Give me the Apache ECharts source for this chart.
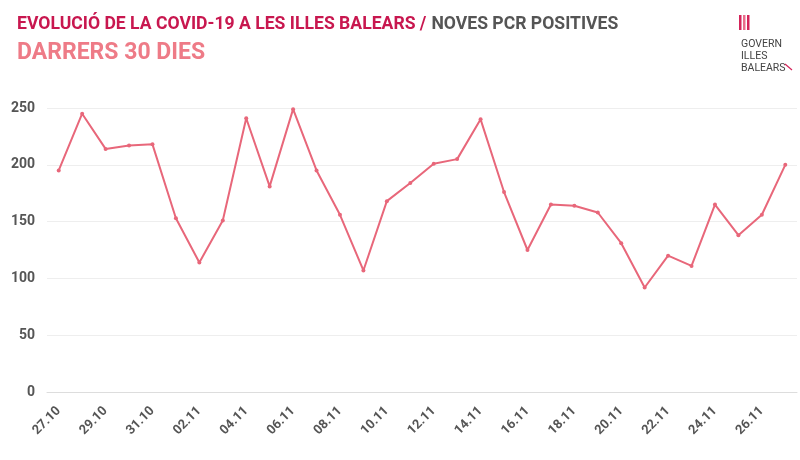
<!DOCTYPE html>
<html>
<head>
<meta charset="utf-8">
<script src="https://cdn.jsdelivr.net/npm/echarts@6/dist/echarts.min.js"></script>
<style>
  html, body { margin: 0; padding: 0; background: #fff; }
  #chart { width: 800px; height: 460px; }
</style>
</head>
<body>
<div id="chart"></div>
<script>
// dies (27.10 - 27.11)
var dates = ['27.10','28.10','29.10','30.10','31.10','01.11','02.11','03.11','04.11','05.11',
  '06.11','07.11','08.11','09.11','10.11','11.11','12.11','13.11','14.11','15.11',
  '16.11','17.11','18.11','19.11','20.11','21.11','22.11','23.11','24.11','25.11',
  '26.11','27.11'];
// noves PCR positives
var positives = [195, 245, 214, 217, 218, 153, 114, 151, 241, 181,
  249, 195, 156, 107, 168, 184, 201, 205, 240, 176,
  125, 165, 164, 158, 131, 92, 120, 111, 165, 138,
  156, 200];
var yTicks = [0, 50, 100, 150, 200, 250];

var myChart = echarts.init(document.getElementById('chart'));
var font = 'Roboto';

var option = {
  animation: false,
  title: {
    left: 12,
    top: 11,
    text: '{a|EVOLUCIÓ DE LA COVID-19 A LES ILLES BALEARS /} {b|NOVES PCR POSITIVES}',
    subtext: 'DARRERS 30 DIES',
    itemGap: 8,
    textStyle: {
      rich: {
        a: { color: '#c8174f', fontSize: 17.6, fontWeight: 'bold', fontFamily: font },
        b: { color: '#555555', fontSize: 17.6, fontWeight: 'bold', fontFamily: font }
      }
    },
    subtextStyle: { color: '#ee7b87', fontSize: 23, fontWeight: 'bold', fontFamily: font }
  },
  graphic: [
    { type: 'rect', left: 739, top: 15, shape: { width: 2.5, height: 15 }, style: { fill: '#d4245a' } },
    { type: 'rect', left: 743, top: 15, shape: { width: 2.5, height: 15 }, style: { fill: '#e86d8a' } },
    { type: 'rect', left: 747, top: 15, shape: { width: 2.5, height: 15 }, style: { fill: '#d4245a' } },
    { type: 'text', left: 741, top: 38, style: { text: 'GOVERN\nILLES\nBALEARS', fill: '#444', font: '10.5px ' + font, lineHeight: 12 } },
    { type: 'line', shape: { x1: 785, y1: 64, x2: 792, y2: 70 }, style: { stroke: '#d4245a', lineWidth: 1.2 } }
  ],
  grid: { left: 47, right: 3, top: 108, bottom: 68 },
  xAxis: {
    type: 'category',
    data: dates,
    boundaryGap: true,
    axisTick: { show: false },
    axisLine: { show: true, lineStyle: { color: '#dddddd' } },
    axisLabel: {
      interval: 1,
      rotate: 45,
      margin: 17,
      color: '#555',
      fontSize: 13,
      fontWeight: 'bold',
      fontFamily: font
    }
  },
  yAxis: {
    type: 'value',
    min: yTicks[0],
    max: yTicks[yTicks.length - 1],
    interval: 50,
    axisLine: { show: false },
    axisTick: { show: false },
    splitLine: { lineStyle: { color: '#eeeeee' } },
    axisLabel: { color: '#555', fontSize: 14, fontWeight: 'bold', fontFamily: font, margin: 12 }
  },
  series: [{
    type: 'line',
    data: positives,
    symbol: 'circle',
    symbolSize: 4,
    lineStyle: { color: '#e8677a', width: 2 },
    itemStyle: { color: '#e8677a' }
  }]
};

myChart.setOption(option);
</script>
</body>
</html>
